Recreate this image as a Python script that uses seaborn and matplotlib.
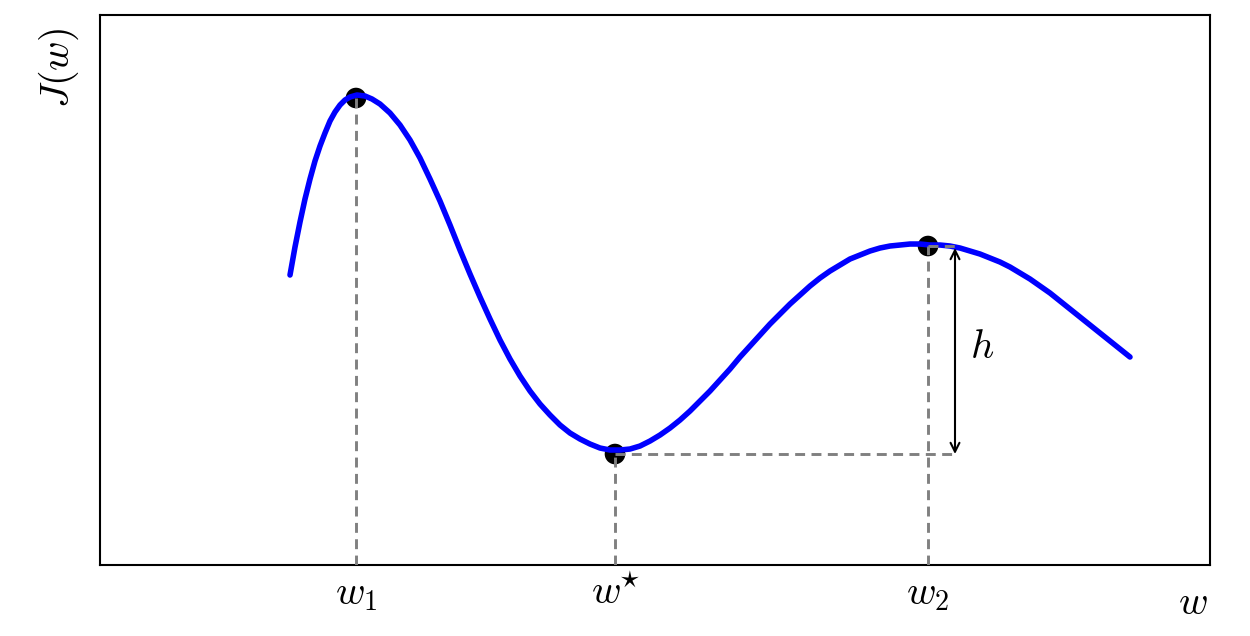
import numpy as np
import pandas as pd
import matplotlib
matplotlib.use("Agg")
import matplotlib.pyplot as plt
import seaborn as sns

# curve J(w), values (arbitrary units)
w_curve = [290, 295, 300, 305, 310, 315, 320, 325, 330, 335, 340, 345, 350, 357,
           365, 372, 380, 390, 400, 410, 420, 430, 440, 450, 460, 470, 480, 490,
           500, 510, 520, 530, 540, 550, 560, 570, 580, 590, 600, 610, 620, 630,
           640, 650, 660, 670, 680, 690, 700, 710, 720, 730, 740, 750, 760, 770,
           780, 790, 800, 810, 820, 830, 840, 850, 860, 870, 880, 890, 900, 910,
           920, 930, 940, 950, 960, 970, 980, 990, 1000, 1010, 1020, 1030, 1040,
           1050, 1060, 1070, 1080, 1090, 1100, 1110, 1120, 1130]
J_curve = [290, 318, 343, 366, 386, 404, 419, 432, 444, 453, 460, 465, 468, 470,
           469, 466, 461, 452, 440, 425, 407, 386, 364, 340, 315, 291, 268, 246,
           225, 206, 189, 174, 161, 150, 140, 132, 126, 121, 117, 115, 115, 116,
           119, 124, 130, 137, 145, 154, 164, 174, 185, 196, 208, 219, 230, 241,
           251, 261, 270, 279, 287, 294, 300, 306, 310, 314, 317, 319, 320, 321,
           321, 320, 320, 319, 317, 314, 311, 307, 303, 298, 292, 286, 279,
           272, 264, 256, 248, 240, 232, 224, 216, 208]

# stationary points
point_names = ['$w_1$', '$w^{\\!\\!\\star}$', '$w_2$']
w_points = [356, 615, 928]
J_points = [467, 111, 319]

# barrier height arrow
h_x = 955
h_label = '$h$'

df_curve = pd.DataFrame({'w': w_curve, 'J': J_curve})
df_pts = pd.DataFrame({'w': w_points, 'J': J_points, 'name': point_names})

sns.set_style("white")
plt.rcParams['mathtext.fontset'] = 'cm'
plt.rcParams['font.family'] = ['DejaVu Sans']
plt.rcParams['text.color'] = 'black'
plt.rcParams['xtick.color'] = 'black'
plt.rcParams['axes.labelcolor'] = 'black'

fig = plt.figure(figsize=(12.5, 6.36), dpi=100)
ax = fig.add_axes([0.08, 0.1116, 0.888, 0.8648])

sns.scatterplot(data=df_pts, x='w', y='J', ax=ax, color='black', s=220,
                edgecolor='none', zorder=2, legend=False)
sns.lineplot(data=df_curve, x='w', y='J', ax=ax, color='#0000ff', linewidth=4.0,
             sort=False, zorder=3)

dash_kw = dict(color='#808080', linestyle=(0, (3.4, 2.2)), linewidth=2.1, zorder=4)
for w, J in zip(w_points, J_points):
    ax.plot([w, w], [0, J], **dash_kw)
ax.plot([w_points[1], h_x], [J_points[1], J_points[1]], **dash_kw)
ax.plot([w_points[2], h_x], [J_points[2], J_points[2]], **dash_kw)

ax.annotate('', xy=(h_x, J_points[2] - 2), xytext=(h_x, J_points[1]),
            arrowprops=dict(arrowstyle='<->', color='black', lw=1.5,
                            shrinkA=0, shrinkB=0, mutation_scale=16), zorder=5)
ax.text(h_x + 27, (J_points[1] + J_points[2]) / 2 + 3, h_label,
        fontsize=29, ha='center', va='center')

ax.set_xlim(100, 1210)
ax.set_ylim(0, 550)
ax.set_xticks(w_points)
ax.set_xticklabels(point_names, fontsize=29)
ax.set_yticks([])
ax.tick_params(axis='x', direction='in', length=7, width=1, pad=6, top=False)

for s in ax.spines.values():
    s.set_visible(True)
    s.set_color('black')
    s.set_linewidth(1.5)

ax.set_xlabel('$w$', fontsize=29)
ax.xaxis.set_label_coords(0.998, -0.033)
ax.xaxis.label.set_ha('right')
ax.set_ylabel('$J(w)$', fontsize=29)
ax.yaxis.set_label_coords(-0.037, 0.905)
ax.yaxis.label.set_va('center')
ax.yaxis.label.set_ha('center')

plt.savefig('out.png', dpi=100)
plt.close()
